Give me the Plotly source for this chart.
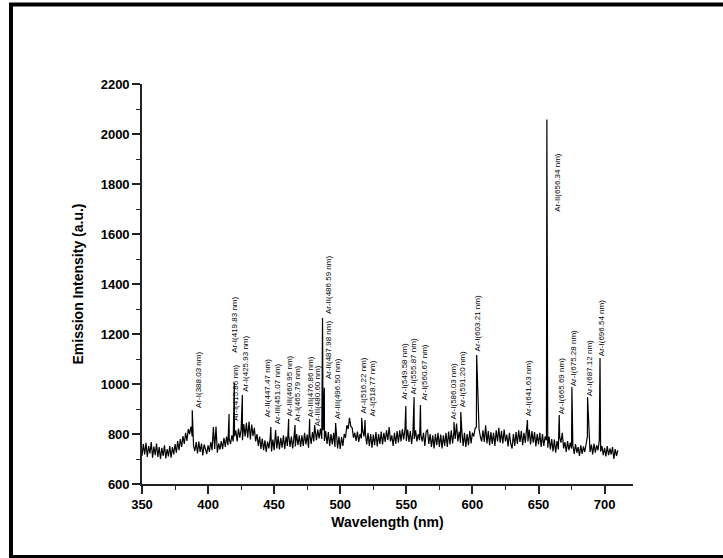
import plotly.graph_objects as go

# ---------------- data ----------------
base_start = 350  # nm, baseline sampled every 1 nm
baseline = [
    712, 760, 718, 765, 708, 752, 722, 768, 705, 750,
    715, 762, 708, 748, 700, 745, 712, 755, 702, 740,
    710, 752, 705, 748, 718, 760, 725, 772, 735, 780,
    748, 792, 760, 805, 772, 820, 800, 830, 790, 752,
    732, 768, 722, 770, 728, 762, 714, 758, 736, 720,
    755, 728, 768, 735, 828, 740, 830, 725, 762, 738,
    772, 740, 785, 748, 790, 755, 780, 760, 795, 770,
    790, 815, 770, 822, 785, 818, 775, 840, 790, 845,
    785, 850, 778, 838, 792, 825, 770, 800, 752, 790,
    740, 782, 735, 775, 728, 770, 742, 785, 730, 778,
    735, 788, 742, 792, 738, 785, 745, 795, 740, 790,
    752, 795, 748, 790, 742, 788, 750, 800, 755, 795,
    748, 795, 752, 805, 758, 798, 745, 800, 760, 808,
    770, 810, 775, 818, 782, 822, 780, 815, 772, 812,
    760, 808, 752, 800, 758, 805, 748, 795, 742, 790,
    740, 788, 752, 800, 785, 835, 820, 865, 830, 825,
    785, 805, 772, 810, 768, 800, 782, 812, 790, 805,
    758, 805, 752, 800, 745, 798, 755, 808, 750, 800,
    760, 810, 758, 805, 768, 815, 775, 828, 770, 795,
    752, 805, 760, 812, 765, 815, 770, 820, 778, 822,
    772, 818, 768, 812, 760, 808, 780, 815, 770, 800,
    775, 798, 770, 805, 752, 808, 818, 760, 800, 748,
    795, 742, 800, 755, 805, 748, 798, 742, 795, 752,
    805, 748, 810, 758, 815, 762, 808, 780, 842, 770,
    810, 765, 812, 752, 805, 748, 800, 755, 812, 762,
    805, 790, 822, 828, 935, 820, 790, 770, 815, 768,
    835, 762, 812, 755, 808, 760, 805, 752, 815, 770,
    825, 765, 812, 762, 818, 770, 798, 750, 805, 760,
    742, 800, 752, 808, 760, 815, 768, 812, 755, 805,
    765, 815, 770, 818, 758, 812, 765, 808, 750, 800,
    758, 805, 748, 800, 752, 790, 775, 745, 790, 738,
    780, 730, 778, 725, 772, 738, 790, 765, 805, 742,
    768, 728, 772, 735, 765, 742, 755, 720, 760, 725,
    748, 712, 755, 720, 750, 728, 758, 790, 850, 728,
    758, 718, 762, 725, 755, 735, 775, 730, 752, 715,
    745, 710, 752, 715, 742, 718, 748, 700, 740, 712,
    735,
]

peak_nm = [388.03, 415.86, 419.83, 425.93, 447.47, 451.07, 460.95, 465.79,
           476.86, 480.60, 486.59, 487.98, 496.50, 516.22, 518.77, 549.58,
           555.87, 560.67, 586.03, 591.20, 603.21, 641.63, 656.34, 665.69,
           675.28, 687.12, 696.54]
peak_val = [895, 880, 1004, 956, 828, 816, 860, 836,
            860, 836, 1264, 985, 844, 864, 856, 912,
            948, 916, 848, 888, 1116, 856, 2058, 876,
            988, 948, 1104]
peak_text = ["Ar-I(388.03 nm)", "Ar-I(415.86 nm)", "Ar-I(419.83 nm)", "Ar-I(425.93 nm)",
             "Ar-II(447.47 nm)", "Ar-III(451.07 nm)", "Ar-III(460.95 nm)", "Ar-I(465.79 nm)",
             "Ar-III(476.86 nm)", "Ar-III(480.60 nm)", "Ar-II(486.59 nm)", "Ar-II(487.98 nm)",
             "Ar-III(496.50 nm)", "Ar-I(516.22 nm)", "Ar-I(518.77 nm)", "Ar-I(549.58 nm)",
             "Ar-I(555.87 nm)", "Ar-I(560.67 nm)", "Ar-I(586.03 nm)", "Ar-I(591.20 nm)",
             "Ar-I(603.21 nm)", "Ar-I(641.63 nm)", "Ar-II(656.34 nm)", "Ar-I(665.69 nm)",
             "Ar-I(675.28 nm)", "Ar-I(687.12 nm)", "Ar-I(696.54 nm)"]

# label placement (wavelength of text centre, intensity of text foot)
label_nm = [392.3, 420.2, 419.5, 427.8, 445.2, 452.7, 461.8, 467.1,
            477.6, 482.9, 491.2, 491.2, 498.0, 516.9, 523.7, 548.6,
            555.4, 563.0, 585.6, 592.4, 603.8, 642.3, 664.2, 667.2,
            676.3, 688.4, 697.4]
label_foot = [900, 848, 1120, 964, 864, 836, 868, 844,
              864, 828, 1276, 1016, 856, 876, 864, 936,
              956, 928, 856, 904, 1128, 868, 1684, 876,
              988, 948, 1108]

x_ticks = [350, 400, 450, 500, 550, 600, 650, 700]
y_ticks = [600, 800, 1000, 1200, 1400, 1600, 1800, 2000, 2200]

# ---------------- build spectrum ----------------
pts = [(base_start + i, v) for i, v in enumerate(baseline)]
pts += list(zip(peak_nm, peak_val))
pts.sort()
xs = [p[0] for p in pts]
ys = [p[1] for p in pts]

FONT = "Liberation Sans, Arial, sans-serif"

fig = go.Figure()
fig.add_trace(go.Scatter(x=xs, y=ys, mode="lines",
                         line=dict(color="black", width=1.2), hoverinfo="skip"))

for t, lx, ly in zip(peak_text, label_nm, label_foot):
    fig.add_annotation(x=lx, y=ly, text=t, textangle=-90, showarrow=False,
                       xanchor="center", yanchor="bottom", borderpad=0,
                       font=dict(family=FONT, size=8, color="black"))

# plot area in px: x 142..633, y 84..484
L, R, T, B = 142, 633, 84, 484
W, H = 723, 558
pw, ph = R - L, B - T
def px2paper_x(px):
    return (px - L) / pw
def px2paper_y(py):
    return (B - py) / ph

fig.add_shape(type="rect", xref="paper", yref="paper",
              x0=px2paper_x(11), x1=px2paper_x(740),
              y0=px2paper_y(557), y1=px2paper_y(4.5),
              line=dict(color="black", width=4), fillcolor="rgba(0,0,0,0)", layer="above")

axis_common = dict(showgrid=False, zeroline=False, showline=True, linecolor="#222",
                   linewidth=1.6, ticks="outside", ticklen=8, tickwidth=1.5,
                   tickcolor="#222", mirror=False,
                   tickfont=dict(family=FONT, size=13, color="black", weight="bold"))

fig.update_xaxes(range=[350, 721.5], tickvals=x_ticks,
                 minor=dict(ticks="outside", ticklen=4, tickwidth=1.2, tickcolor="#222", dtick=25),
                 title=dict(text="Wavelength (nm)", standoff=6,
                            font=dict(family=FONT, size=14, color="black", weight="bold")),
                 **axis_common)
fig.update_yaxes(range=[600, 2200], tickvals=y_ticks,
                 minor=dict(ticks="outside", ticklen=4, tickwidth=1.2, tickcolor="#222", dtick=100),
                 title=dict(text="Emission Intensity (a.u.)", standoff=14,
                            font=dict(family=FONT, size=14, color="black", weight="bold")),
                 **axis_common)

fig.update_layout(width=W, height=H, showlegend=False,
                  margin=dict(l=L, r=W - R, t=T, b=H - B, autoexpand=False),
                  paper_bgcolor="white", plot_bgcolor="white")

fig.write_html("out.html")
